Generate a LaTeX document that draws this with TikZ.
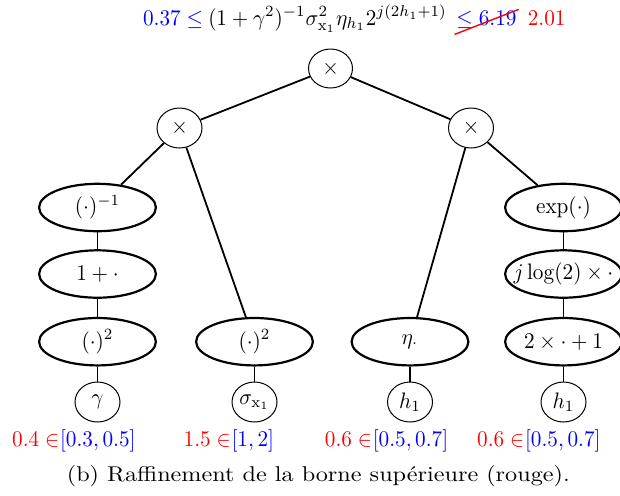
\documentclass[tikz,border=0pt]{standalone}
\usetikzlibrary{shapes.geometric}
\newcommand\tx[1]{\scalebox{1.06}[1.12]{$#1$}}
\newcommand\ctr[1]{\makebox[0pt]{\tx{#1}}}
\begin{document}
\begin{tikzpicture}[x=0.5pt, y=-0.5pt,
  ov/.style={ellipse, draw, line width=1.1pt, minimum width=58.4pt, minimum height=23.7pt, inner sep=0pt},
  cir/.style={ellipse, draw, line width=0.5pt, minimum width=22.5pt, minimum height=20pt, inner sep=0pt},
  edge/.style={line width=0.9pt},
  lab/.style={inner sep=0pt}]
\useasboundingbox (0,0) rectangle (620,495);
% operator nodes
\node[cir, minimum width=22pt, minimum height=19.5pt] (r) at (330.5,68.5) {\tx{\times}};
\node[cir] (l) at (179.5,128) {\tx{\times}};
\node[cir] (rr) at (471,128) {\tx{\times}};
\node[ov] (inv) at (97.5,207.5) {\ctr{(\cdot)^{-1}}};
\node[ov] (onep) at (97.5,274) {\ctr{1+\cdot}};
\node[ov] (sq1) at (97.5,341.7) {\ctr{(\cdot)^2}};
\node[ov] (sq2) at (254.5,341.7) {\ctr{(\cdot)^2}};
\node[ov] (eta) at (410,341.7) {\ctr{\eta_\cdot}};
\node[ov] (exp) at (563.5,207.5) {\ctr{\exp(\cdot)}};
\node[ov] (jl) at (563.5,274) {\ctr{j\log(2)\times\cdot}};
\node[ov] (aff) at (563.5,341.7) {\ctr{2\times\cdot+1}};
% leaves
\node[cir] (g) at (97.5,402) {\tx{\gamma}};
\node[cir] (s) at (254.5,402) {\tx{\sigma_{\mathrm{x}_1}}};
\node[cir] (h) at (410,402) {\tx{h_1}};
\node[cir] (h2) at (563.5,402) {\tx{h_1}};
% edges
\draw[edge] (r) -- (l);
\draw[edge] (r) -- (rr);
\draw[edge] (l) -- (inv);
\draw[edge] (l) -- (sq2);
\draw[edge] (rr) -- (eta);
\draw[edge] (rr) -- (exp);
\draw[edge] (inv) -- (onep);
\draw[edge] (onep) -- (sq1);
\draw[edge] (sq1) -- (g);
\draw[edge] (sq2) -- (s);
\draw[edge] (eta) -- (h);
\draw[edge] (exp) -- (jl);
\draw[edge] (jl) -- (aff);
\draw[edge] (aff) -- (h2);
% top formula
\node[lab, anchor=base] (f) at (327.5,25) {\tx{(1+\gamma^2)^{-1}\sigma^2_{\mathrm{x}_1}\eta_{h_1}2^{j(2h_1+1)}}};
\node[lab, anchor=base east, text=blue] (fl) at ([xshift=-2.15pt]f.base west) {\tx{0.37\leq}};
\node[lab, anchor=base west, text=blue] (fr) at ([xshift=4.45pt]f.base east) {\tx{\leq 6.19}};
\node[lab, anchor=base west, text=red] (fred) at ([xshift=5.25pt]fr.base east) {\tx{2.01}};
\draw[red, line width=0.7pt] ([xshift=-0.75pt,yshift=-3pt]fr.south west) -- ([xshift=0.9pt,yshift=0.4pt]fr.north east);
% interval labels
\node[lab, anchor=base, text=blue] (i1) at (97.8,446.7) {\tx{[0.3, 0.5]}};
\node[lab, anchor=base east, text=red] (v1) at (i1.base west) {\tx{0.4\in}};
\node[lab, anchor=base, text=blue] (i2) at (252.8,446.7) {\tx{[1, 2]}};
\node[lab, anchor=base east, text=red] (v2) at (i2.base west) {\tx{1.5\in}};
\node[lab, anchor=base, text=blue] (i3) at (410.5,446.7) {\tx{[0.5, 0.7]}};
\node[lab, anchor=base east, text=red] (v3) at (i3.base west) {\tx{0.6\in}};
\node[lab, anchor=base, text=blue] (i4) at (562.8,446.7) {\tx{[0.5, 0.7]}};
\node[lab, anchor=base east, text=red] (v4) at (i4.base west) {\tx{0.6\in}};
% caption
\node[lab, anchor=base] (cap) at (318.3,481) {\scalebox{1.21}[1.07]{(b) Raffinement de la borne supérieure (rouge).}};
\end{tikzpicture}
\end{document}
